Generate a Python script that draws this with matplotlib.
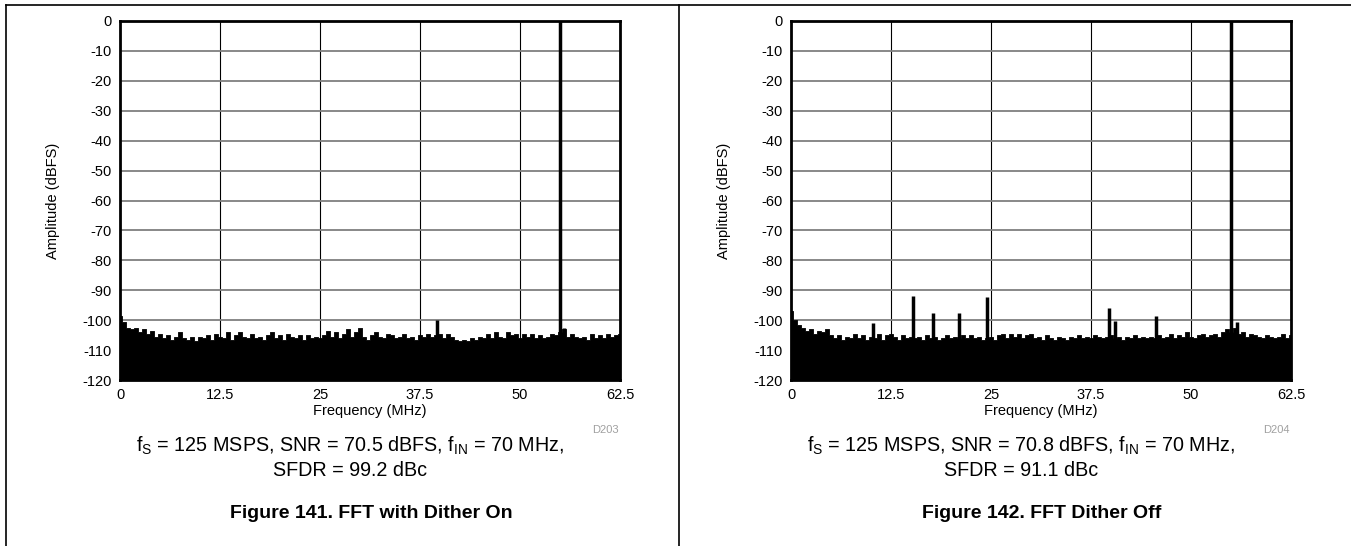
import numpy as np
import matplotlib
matplotlib.use("Agg")
import matplotlib.pyplot as plt
from matplotlib.lines import Line2D

plt.rcParams['font.family'] = ['Liberation Sans', 'DejaVu Sans']
plt.rcParams['mathtext.fontset'] = 'custom'
plt.rcParams['mathtext.rm'] = 'Liberation Sans'
plt.rcParams['mathtext.default'] = 'regular'
plt.rcParams['axes.unicode_minus'] = False

# noise floor top read every 0.5 MHz (0 .. 62.5 MHz), dBFS
noise_on = [-98.5, -100.5, -102.5, -103, -102.5, -104, -103, -104.5, -103.5, -105.5,
            -104.5, -106, -105, -106.5, -105.5, -104, -106, -106.5, -105.5, -107,
            -105.5, -106, -105, -106.5, -104.5, -105.5, -106, -104, -106.5, -105,
            -104, -105.5, -106, -104.5, -106, -105.5, -106.5, -105, -104, -106,
            -105, -106.5, -104.5, -105.5, -106, -105, -106.5, -105, -106, -105.5,
            -106, -105, -103.5, -105.5, -104, -106, -104.5, -103, -105.5, -104,
            -102.5, -105.5, -106.5, -105, -104, -105.5, -106, -104.5, -105, -106,
            -105.5, -104.5, -106, -105.5, -106.5, -105, -105.5, -104.5, -105.5, -105,
            -104.5, -106, -104.5, -105.5, -106.5, -107, -106.5, -107, -106, -106.5,
            -105.5, -106, -104.5, -106, -104, -105.5, -106, -104, -105, -104.5,
            -106, -104.5, -105.5, -104.5, -106, -105, -106, -105.5, -104.5, -105,
            -104, -103, -105.5, -104.5, -105.5, -106, -105.5, -106.5, -104.5, -106,
            -105, -106, -104.5, -105.5, -105, -104.5]
noise_off = [-97, -100, -101.5, -102.5, -103.5, -103, -104.5, -103.5, -104, -103,
             -105, -106, -105, -106.5, -105.5, -106, -104.5, -106, -105, -106.5,
             -105.5, -106, -104.5, -106.5, -105, -104.5, -105.5, -106.5, -105, -106,
             -105.5, -106, -105.5, -106.5, -105, -106, -105.5, -106.5, -106, -105,
             -106, -105.5, -106, -105, -106, -105, -106, -105.5, -106.5, -106,
             -105.5, -106.5, -105, -104.5, -106, -104.5, -105.5, -104.5, -106, -105,
             -104.5, -106, -105.5, -106.5, -105, -106, -106.5, -105.5, -106, -106.5,
             -105.5, -106, -105, -106, -105.5, -106, -105, -105.5, -106, -105.5,
             -105, -106, -105.5, -106.5, -105.5, -106, -105, -106, -105.5, -106,
             -105.5, -106, -105, -106, -105.5, -104.5, -106, -105, -105.5, -104,
             -105.5, -106, -105, -104.5, -105.5, -105, -104.5, -105.5, -104, -103,
             -104, -102.5, -104.5, -104, -105.5, -104.5, -105, -105.5, -106, -105,
             -105.5, -106, -105.5, -104.5, -106, -105]

# discrete spurs / tone: frequency (MHz), level (dBFS)
spur_on_f = [39.6, 55.0, 55.5]
spur_on_db = [-100, 0, -102.5]
spur_off_f = [10.2, 15.2, 17.8, 21.0, 24.5, 39.7, 40.5, 45.6, 55.0, 55.8]
spur_off_db = [-101, -92, -97.6, -97.6, -92.2, -95.9, -100.3, -98.5, 0, -100.5]

xticks = [0, 12.5, 25, 37.5, 50, 62.5]
xtick_labels = ['0', '12.5', '25', '37.5', '50', '62.5']
yticks = list(range(-120, 1, 10))

panels = [
    dict(noise=noise_on, sf=spur_on_f, sdb=spur_on_db, code='D203',
         line1=r'f$_S$ = 125 MSPS, SNR = 70.5 dBFS, f$_{IN}$ = 70 MHz,',
         line2='SFDR = 99.2 dBc', title='Figure 141. FFT with Dither On',
         left=120),
    dict(noise=noise_off, sf=spur_off_f, sdb=spur_off_db, code='D204',
         line1=r'f$_S$ = 125 MSPS, SNR = 70.8 dBFS, f$_{IN}$ = 70 MHz,',
         line2='SFDR = 91.1 dBc', title='Figure 142. FFT Dither Off',
         left=791),
]

W, H = 1351, 546
fig = plt.figure(figsize=(W / 100, H / 100), dpi=100)

# page frame lines
for xs, ys in [([6, W], [5, 5]), ([6, 6], [5, H]), ([679, 679], [5, H])]:
    fig.add_artist(Line2D([x / W for x in xs], [1 - y / H for y in ys],
                          color='black', lw=1.2, transform=fig.transFigure))

for p in panels:
    ax = fig.add_axes([p['left'] / W, 1 - 380 / H, 500 / W, 359 / H])
    f = np.linspace(0, 62.5, len(p['noise']))
    ax.fill_between(f, -120, p['noise'], step='mid', color='black', lw=0.6, zorder=3)
    ax.vlines(p['sf'], -120, p['sdb'], color='black', lw=2.5, zorder=3)
    ax.set_xlim(0, 62.5)
    ax.set_ylim(-120, 0)
    ax.set_xticks(xticks)
    ax.set_xticklabels(xtick_labels)
    ax.set_yticks(yticks)
    ax.tick_params(length=0, labelsize=10.5, pad=6)
    ax.yaxis.grid(True, color='#7f7f7f', lw=1.3)
    ax.xaxis.grid(True, color='black', lw=0.8)
    ax.set_axisbelow(True)
    for s in ax.spines.values():
        s.set_linewidth(2)
    ax.set_xlabel('Frequency (MHz)', fontsize=10.5, labelpad=1)
    ax.set_ylabel('Amplitude (dBFS)', fontsize=10.5, labelpad=16)
    fig.text((p['left'] + 485) / W, 1 - 430 / H, p['code'], color='#a0a0a0',
             fontsize=8, ha='center', va='center')
    fig.text((p['left'] + 230) / W, 1 - 446 / H, p['line1'], fontsize=14.2,
             ha='center', va='center')
    fig.text((p['left'] + 230) / W, 1 - 470 / H, p['line2'], fontsize=14.2,
             ha='center', va='center')
    fig.text((p['left'] + 251) / W, 1 - 514 / H, p['title'], fontsize=14,
             fontweight='bold', ha='center', va='center')

fig.savefig('out.png', dpi=100)
